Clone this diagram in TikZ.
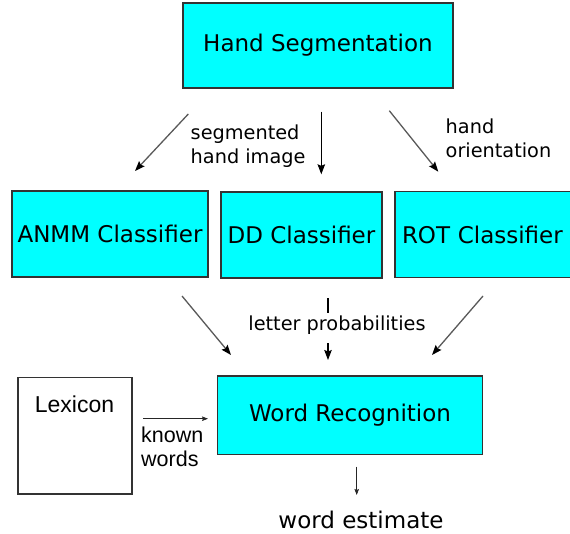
\documentclass[tikz,border=0pt]{standalone}
\usepackage{fontspec}
\setmainfont{DejaVu Sans}
\newfontfamily\libfont{Liberation Sans}
\usetikzlibrary{arrows.meta}
\definecolor{boxcyan}{HTML}{00FFFF}
\definecolor{edgegray}{HTML}{333333}
\tikzset{
  procbox/.style={draw=edgegray, line width=1.2pt, fill=boxcyan, rectangle, inner sep=0pt,
    font=\fontsize{23}{27}\selectfont},
  plainbox/.style={draw=edgegray, line width=1.2pt, fill=white, rectangle, inner sep=0pt},
  flowarrow/.style={-{Stealth[length=10pt,width=7.5pt,inset=1.5pt,color=black]}, line width=1.3pt, draw=black!65},
  vertarrow/.style={-{Stealth[length=10pt,width=7.5pt,inset=1.5pt]}, line width=1.1pt, draw=black},
  thinarrow/.style={-{Stealth[length=6pt,width=4.5pt,inset=1pt]}, line width=0.7pt, draw=black!85},
  lbl/.style={inner sep=0pt, align=left, font=\fontsize{19.3}{24}\selectfont},
}
\begin{document}
\begin{tikzpicture}[x=1pt,y=-1pt]
\useasboundingbox (0,0) rectangle (570,533);
\begin{scope}
\clip (0,0) rectangle (570,533);
% boxes
\node[procbox, minimum width=270pt, minimum height=85pt] (hs) at (318,45.5) {Hand Segmentation};
\node[procbox, minimum width=196pt, minimum height=86pt] (anmm) at (110,234) {ANMM Classifier};
\node[procbox, minimum width=161pt, minimum height=86pt] (dd) at (301.5,235) {DD Classifier};
\node[procbox, minimum width=177pt, minimum height=86pt, text width=177pt, align=left] (rot) at (483.5,234.5) {\hspace*{7pt}ROT Classifier};
\node[procbox, minimum width=265pt, minimum height=78.5pt] (wr) at (350,415.2) {Word Recognition};
\node[plainbox, minimum width=114pt, minimum height=116.5pt] (lex) at (75,435.7) {};
\node[inner sep=0pt, font=\libfont\fontsize{23}{27}\selectfont] (lextext) at (74.5,404) {Lexicon};
\end{scope}
% free ends of connectors
\coordinate (a1s) at (188.3,114);
\coordinate (a1e) at (135,171);
\coordinate (a2s) at (321.3,111.7);
\coordinate (a2e) at (321.3,174.3);
\coordinate (a3s) at (389.3,110.7);
\coordinate (a3e) at (438.3,171.7);
\coordinate (b1s) at (182,296);
\coordinate (b1e) at (231,355);
\coordinate (b2s) at (328,298);
\coordinate (b2m) at (328,313);
\coordinate (b2n) at (328,343);
\coordinate (b2e) at (328,360);
\coordinate (b3s) at (483,296);
\coordinate (b3e) at (432,355);
\coordinate (cs) at (143,418.7);
\coordinate (ce) at (208,418.7);
\coordinate (ds) at (356.7,466.7);
\coordinate (de) at (356.7,495);
% connectors
\draw[flowarrow] (a1s) -- (a1e);
\draw[vertarrow] (a2s) -- (a2e);
\draw[flowarrow] (a3s) -- (a3e);
\draw[flowarrow] (b1s) -- (b1e);
\draw[line width=1.1pt] (b2s) -- (b2m);
\draw[vertarrow] (b2n) -- (b2e);
\draw[flowarrow] (b3s) -- (b3e);
\draw[thinarrow] (cs) -- (ce);
\draw[thinarrow] (ds) -- (de);
% labels
\node[lbl, anchor=north west] (segl) at (190.5,125) {segmented\\hand image};
\node[lbl, anchor=north west] (oril) at (445.5,119) {hand\\orientation};
\node[lbl] (probl) at (337,325) {letter probabilities};
\node[lbl, anchor=north west, font=\libfont\fontsize{21.5}{23.5}\selectfont] (knownl) at (141,427) {known\\words};
\node[inner sep=0pt, font=\fontsize{23}{27}\selectfont] (estl) at (361,520) {word estimate};
\end{tikzpicture}
\end{document}
